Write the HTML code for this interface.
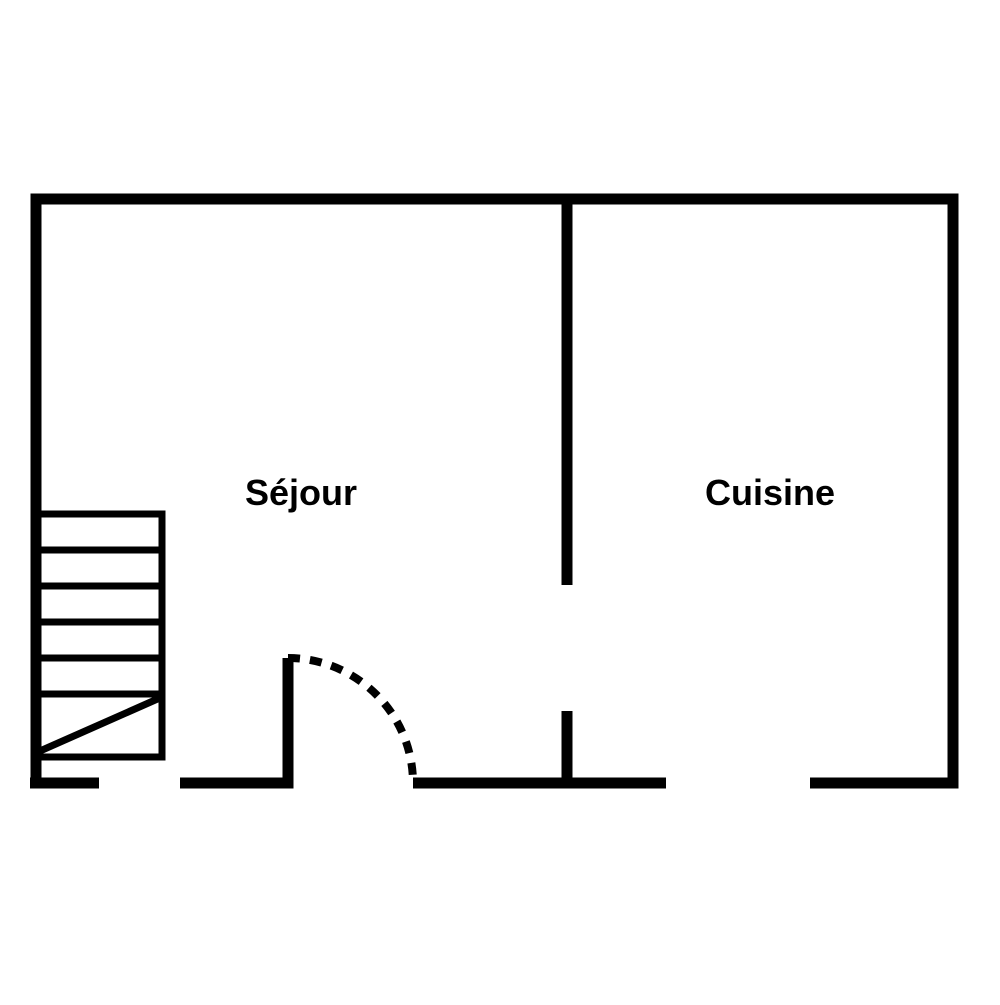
<!DOCTYPE html>
<html><head><style>body{margin:0;background:#fff}</style></head><body>
<svg width="1000" height="1000" viewBox="0 0 1000 1000" xmlns="http://www.w3.org/2000/svg">
<g stroke="#000" stroke-width="11" fill="none" stroke-linecap="butt">
<path d="M36,783 V199 H953 V783 H810"/>
<path d="M30,783 H99"/>
<path d="M180,783 H288 V658"/>
<path d="M413,783 H666"/>
<path d="M567,199 V585"/>
<path d="M567,711 V783"/>
</g>
<g stroke="#000" stroke-width="7" fill="none">
<path d="M40,514 H162 V757 H40"/>
<path d="M40,550 H162 M40,586 H162 M40,622 H162 M40,658 H162 M40,694 H162"/>
<path d="M40,751 L162,697"/>
</g>
<path d="M288,658 A125,125 0 0 1 413,783" stroke="#000" stroke-width="8" fill="none" stroke-dasharray="12,10"/>
<g font-family="Liberation Sans, sans-serif" font-weight="bold" font-size="36" text-anchor="middle" fill="#000">
<text x="301" y="505">Séjour</text>
<text x="770" y="505">Cuisine</text>
</g>
</svg>
</body></html>
